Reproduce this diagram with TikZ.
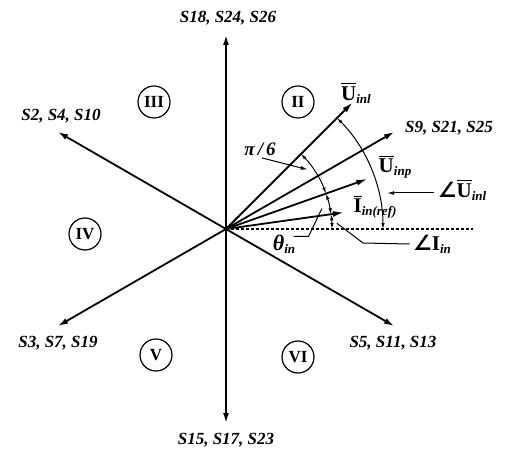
\documentclass[tikz,border=0pt]{standalone}
\usepackage{fontspec}
\setmainfont{Liberation Serif}
\newfontfamily\symfont{DejaVu Sans}
\usetikzlibrary{arrows.meta,calc}
\tikzset{
  every picture/.style={>=Latex, x=1pt, y=1pt,
    font=\bfseries\itshape\fontsize{17}{20}\selectfont},
  axis/.style={line width=1.8pt, -{Latex[length=10pt,width=6pt]}},
  vec/.style={line width=1.8pt, -{Latex[length=11pt,width=6pt]}},
  ang/.style={line width=1pt,
    {Latex[length=6pt,width=3.5pt]}-{Latex[length=6pt,width=3.5pt]}},
  lead/.style={line width=1pt},
  dashline/.style={line width=1.3pt, dash pattern=on 3pt off 2pt},
  sector/.style={draw, circle, line width=1.2pt, minimum size=32pt, inner sep=0pt,
    font=\bfseries\fontsize{17}{17}\selectfont},
}
\def\ax{194}
\def\ra{106}
\def\rb{157}
\def\aUp{19.5}
\def\aI{8}
% phasor label: barred upright letter with italic subscript
\newcommand{\barred}[1]{\vbox{\hrule height 1.3pt\kern 2pt\hbox{\upshape #1}}}
\newcommand{\vlab}[2]{{\fontsize{21}{21}\selectfont\barred{#1}}%
  \raisebox{-3pt}{\fontsize{13}{13}\selectfont #2}}
\newcommand{\angsym}{{\symfont\upshape\fontsize{21}{21}\selectfont ∠}}

\begin{document}
\begin{tikzpicture}
  \path[use as bounding box] (-226,-221) rectangle (280,229);
  \coordinate (O) at (0,0);
  % hexagon of switching vectors
  \foreach \a in {30,90,150,210,270,330}
    \coordinate (t\a) at (\a:\ax);
  \foreach \a in {30,90,150,210,270,330}
    \draw[axis] (O) -- (t\a);
  \node (s90)  at (2,211)     {S18, S24, S26};
  \node (s270) at (0,-211)    {S15, S17, S23};
  \node (s150) at (-165,113)  {S2, S4, S10};
  \node (s30)  at (223,101)   {S9, S21, S25};
  \node (s210) at (-168,-114) {S3, S7, S19};
  \node (s330) at (167,-114)  {S5, S11, S13};
  % sectors
  \node[sector] (sII)  at (72,127)   {II};
  \node[sector] (sIII) at (-72,127)  {III};
  \node[sector] (sIV)  at (-141,-5)  {IV};
  \node[sector] (sV)   at (-70,-126) {V};
  \node[sector] (sVI)  at (72,-128)  {VI};
  % reference line and phasors
  \coordinate (dend) at (247,0);
  \draw[dashline] (O) -- (dend);
  \coordinate (uinl) at (45:179);
  \coordinate (uinp) at (\aUp:150);
  \coordinate (iin)  at (\aI:119);
  \draw[vec] (O) -- (uinl);
  \draw[vec] (O) -- (uinp);
  \draw[vec] (O) -- (iin);
  \node (luinl) at (130,136) {\vlab{U}{inl}};
  \node (luinp) at (169,62)  {\vlab{U}{inp}};
  \node (liin)  at (149,22)  {\vlab{I}{in(ref)}};
  % angles
  \draw[ang] (45:\ra) arc[start angle=45, end angle=\aUp, radius=\ra];
  \draw[ang] (\aUp:\ra) arc[start angle=\aUp, end angle=\aI, radius=\ra];
  \draw[ang] (\aI:\ra) arc[start angle=\aI, end angle=0, radius=\ra];
  \draw[ang] (45:\rb) arc[start angle=45, end angle=0, radius=\rb];
  \node (lpi) at (34,80) {\fontsize{19}{20}\selectfont π\,/\,6};
  \draw[lead,-{Latex[length=7pt,width=4pt]}] ($(lpi.south)+(2,1)$) -- (36:101);
  \node (laul) at (236,39) {\angsym\vlab{U}{inl}};
  \draw[lead,-{Latex[length=7pt,width=4pt]}] ($(laul.west)+(0,-3)$) -- ++(-47,0);
  \node (lth) at (58,-15) {{\fontsize{22}{22}\selectfont θ}\raisebox{-3pt}{\fontsize{13}{13}\selectfont in}};
  \draw[lead] ($(lth.north east)+(-5,-5)$) -- ++(15,0) -- (12:98);
  \node (lail) at (206,-15) {\angsym{\fontsize{21}{21}\selectfont\upshape I}\raisebox{-3pt}{\fontsize{13}{13}\selectfont in}};
  \draw[lead] (3:111) -- (137,-14) -- (lail.west);
\end{tikzpicture}
\end{document}
